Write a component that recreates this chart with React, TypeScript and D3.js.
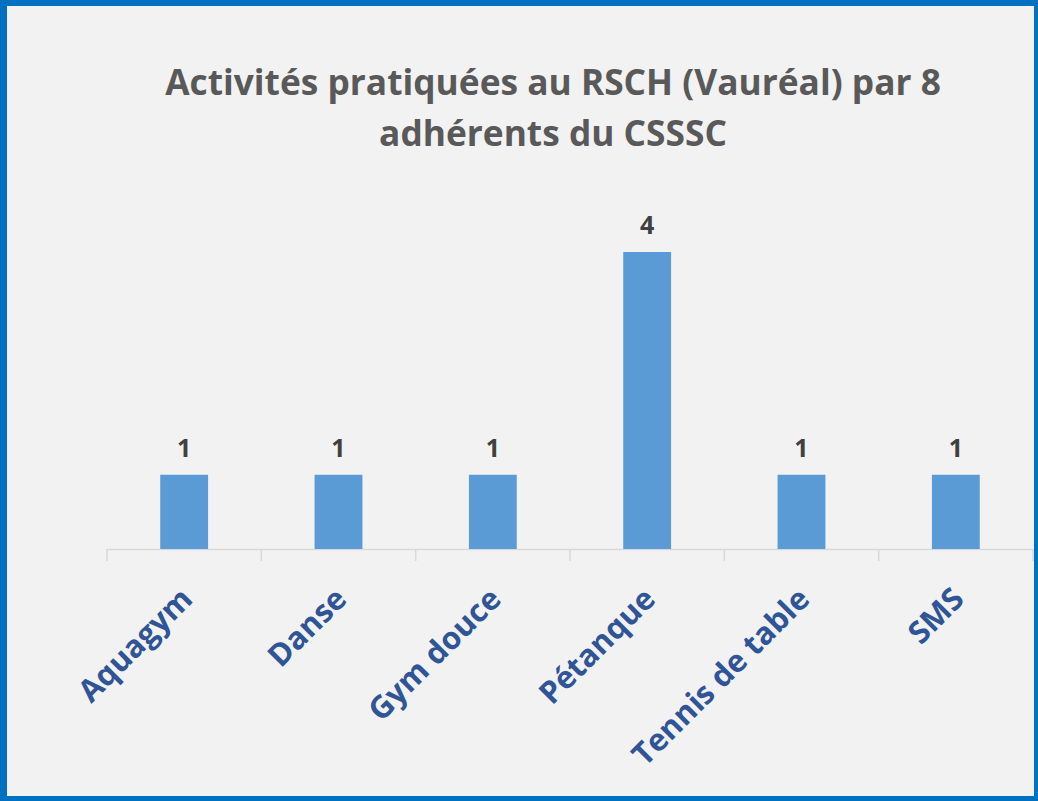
import React from "react";
import * as d3 from "d3";

const categories = ["Aquagym", "Danse", "Gym douce", "Pétanque", "Tennis de table", "SMS"];
const values = [1, 1, 1, 4, 1, 1];
const titleLines = ["Activités pratiquées au RSCH (Vauréal) par 8", "adhérents du CSSSC"];

const W = 1038;
const H = 801;

export default function App() {
  const x = d3.scaleBand<string>().domain(categories).range([107, 1033]).paddingInner(0.69).paddingOuter(0.345);
  const y = d3.scaleLinear().domain([0, 4]).range([549, 252]);
  const step = x.step();
  const font = "'Open Sans', 'DejaVu Sans', sans-serif";
  return (
    <div style={{ position: "absolute", left: 0, top: 0 }}>
      <svg width={W} height={H} style={{ display: "block" }}>
        <rect x={0} y={0} width={W} height={H} fill="#0070C0" />
        <rect x={7} y={6} width={W - 7 - 4} height={H - 6 - 5} fill="#F2F2F2" />
        {titleLines.map((t, i) => (
          <text key={i} x={553} y={95 + i * 51} textAnchor="middle" fontFamily={font} fontWeight="bold" fontSize={35.3} fill="#595959">
            {t}
          </text>
        ))}
        <line x1={107} x2={1033} y1={549.5} y2={549.5} stroke="#D9D9D9" strokeWidth={1.5} />
        {d3.range(categories.length + 1).map((i) => {
          const xx = 107 + i * step;
          return <line key={i} x1={xx} x2={xx} y1={549} y2={561} stroke="#D9D9D9" strokeWidth={1.5} />;
        })}
        {categories.map((c, i) => (
          <g key={c}>
            <rect x={x(c)} y={y(values[i])} width={x.bandwidth()} height={549 - y(values[i])} fill="#5B9BD5" />
            <text x={(x(c) as number) + x.bandwidth() / 2} y={y(values[i]) - 18} textAnchor="middle" fontFamily={font} fontWeight="bold" fontSize={25} fill="#404040">
              {values[i]}
            </text>
            <text
              transform={`translate(${(x(c) as number) + x.bandwidth() / 2 + 10},${601}) rotate(-45)`}
              textAnchor="end"
              fontFamily={font}
              fontWeight="bold"
              fontSize={31}
              fill="#2F5597"
            >
              {c}
            </text>
          </g>
        ))}
      </svg>
    </div>
  );
}
